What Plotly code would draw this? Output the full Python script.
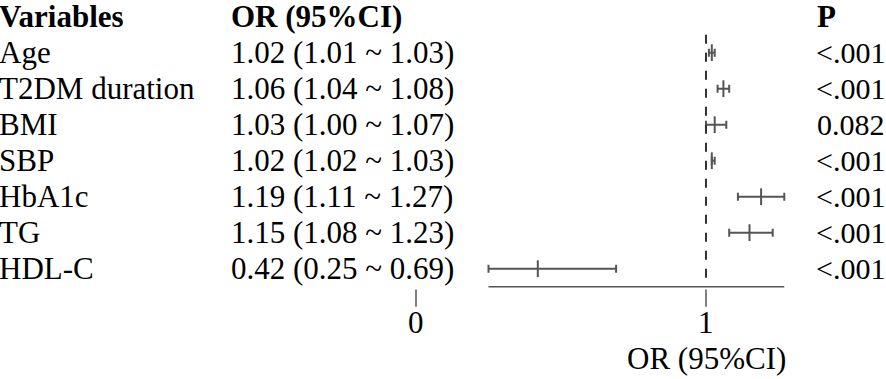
import plotly.graph_objects as go

# ---- data ----
variables = ["Age", "T2DM duration", "BMI", "SBP", "HbA1c", "TG", "HDL-C"]
or_est = [1.02, 1.06, 1.03, 1.02, 1.19, 1.15, 0.42]
ci_lower = [1.01, 1.04, 1.00, 1.02, 1.11, 1.08, 0.25]
ci_upper = [1.03, 1.08, 1.07, 1.03, 1.27, 1.23, 0.69]
p_values = ["<.001", "<.001", "0.082", "<.001", "<.001", "<.001", "<.001"]
x_ticks = [0, 1]
ref_value = 1
header_var = "Variables"
header_or = "OR (95%CI)"
header_p = "P"
x_title = "OR (95%CI)"

W, H = 886, 379
FONT = "Liberation Serif"
FS = 31
GREY = "#555555"

rows = list(range(1, len(variables) + 1))
or_labels = [f"{o:.2f} ({l:.2f} ~ {u:.2f})" for o, l, u in zip(or_est, ci_lower, ci_upper)]

# pixel mapping helpers (layout only)
x0_px, x1_px = 416, 706          # pixel positions of x=0 and x=1
row0_px, row_step = 16.7, 36.0   # pixel of header row and row spacing
xr = [(0 - x0_px) / (x1_px - x0_px), (W - x0_px) / (x1_px - x0_px)]
yr = [(H - row0_px) / row_step, (0 - row0_px) / row_step]

fig = go.Figure()

fig.add_trace(go.Scatter(
    x=or_est, y=rows, mode="markers",
    marker=dict(symbol="line-ns", size=12, line=dict(width=2, color=GREY), color=GREY),
    error_x=dict(type="data", symmetric=False,
                 array=[u - o for u, o in zip(ci_upper, or_est)],
                 arrayminus=[o - l for o, l in zip(or_est, ci_lower)],
                 color=GREY, thickness=2, width=4),
    hoverinfo="skip", showlegend=False,
))

last = len(variables)
axis_y = last + 0.5

# reference dashed line
fig.add_shape(type="line", x0=ref_value, x1=ref_value, y0=0.5, y1=axis_y,
              xref="x", yref="y", line=dict(color="#333333", width=2, dash="dash"))
# axis line spanning data range
fig.add_shape(type="line", x0=min(ci_lower), x1=max(ci_upper), y0=axis_y, y1=axis_y,
              xref="x", yref="y", line=dict(color=GREY, width=1.5))
# ticks and labels
for t in x_ticks:
    fig.add_shape(type="line", x0=t, x1=t, y0=axis_y + 0.08, y1=axis_y + 0.56,
                  xref="x", yref="y", line=dict(color=GREY, width=1.5))
    fig.add_annotation(x=t, y=axis_y + 1.0, xref="x", yref="y", text=str(t),
                       showarrow=False, xanchor="center", yanchor="middle",
                       font=dict(family=FONT, size=FS, color="black"))
fig.add_annotation(x=ref_value, y=axis_y + 2.0, xref="x", yref="y", text=x_title,
                   showarrow=False, xanchor="center", yanchor="middle",
                   font=dict(family=FONT, size=FS, color="black"))

col_var = 0.0
col_or = 232 / W
col_p = 818 / W
col_p_right = 884 / W

def txt(x, y, s, bold=False, anchor="left", size=FS):
    fig.add_annotation(x=x, y=y, xref="paper", yref="y",
                       text=f"<b>{s}</b>" if bold else s,
                       showarrow=False, xanchor=anchor, yanchor="middle",
                       xshift=-3 if anchor == "left" else 3,
                       font=dict(family=FONT, size=size, color="black"))

txt(col_var, 0, header_var, True)
txt(col_or, 0, header_or, True)
txt(col_p, 0, header_p, True)
for r, v, o, p in zip(rows, variables, or_labels, p_values):
    txt(col_var, r, v)
    txt(col_or, r, o)
    txt(col_p_right, r, p, anchor="right", size=30)

fig.update_layout(
    width=W, height=H,
    margin=dict(l=0, r=0, t=0, b=0),
    paper_bgcolor="white", plot_bgcolor="white",
    xaxis=dict(range=xr, visible=False, fixedrange=True),
    yaxis=dict(range=yr, visible=False, fixedrange=True),
)

fig.write_html("out.html", config={"displayModeBar": False},
               post_script="document.body.style.margin='0';document.body.style.padding='0';document.body.style.overflow='hidden';")
